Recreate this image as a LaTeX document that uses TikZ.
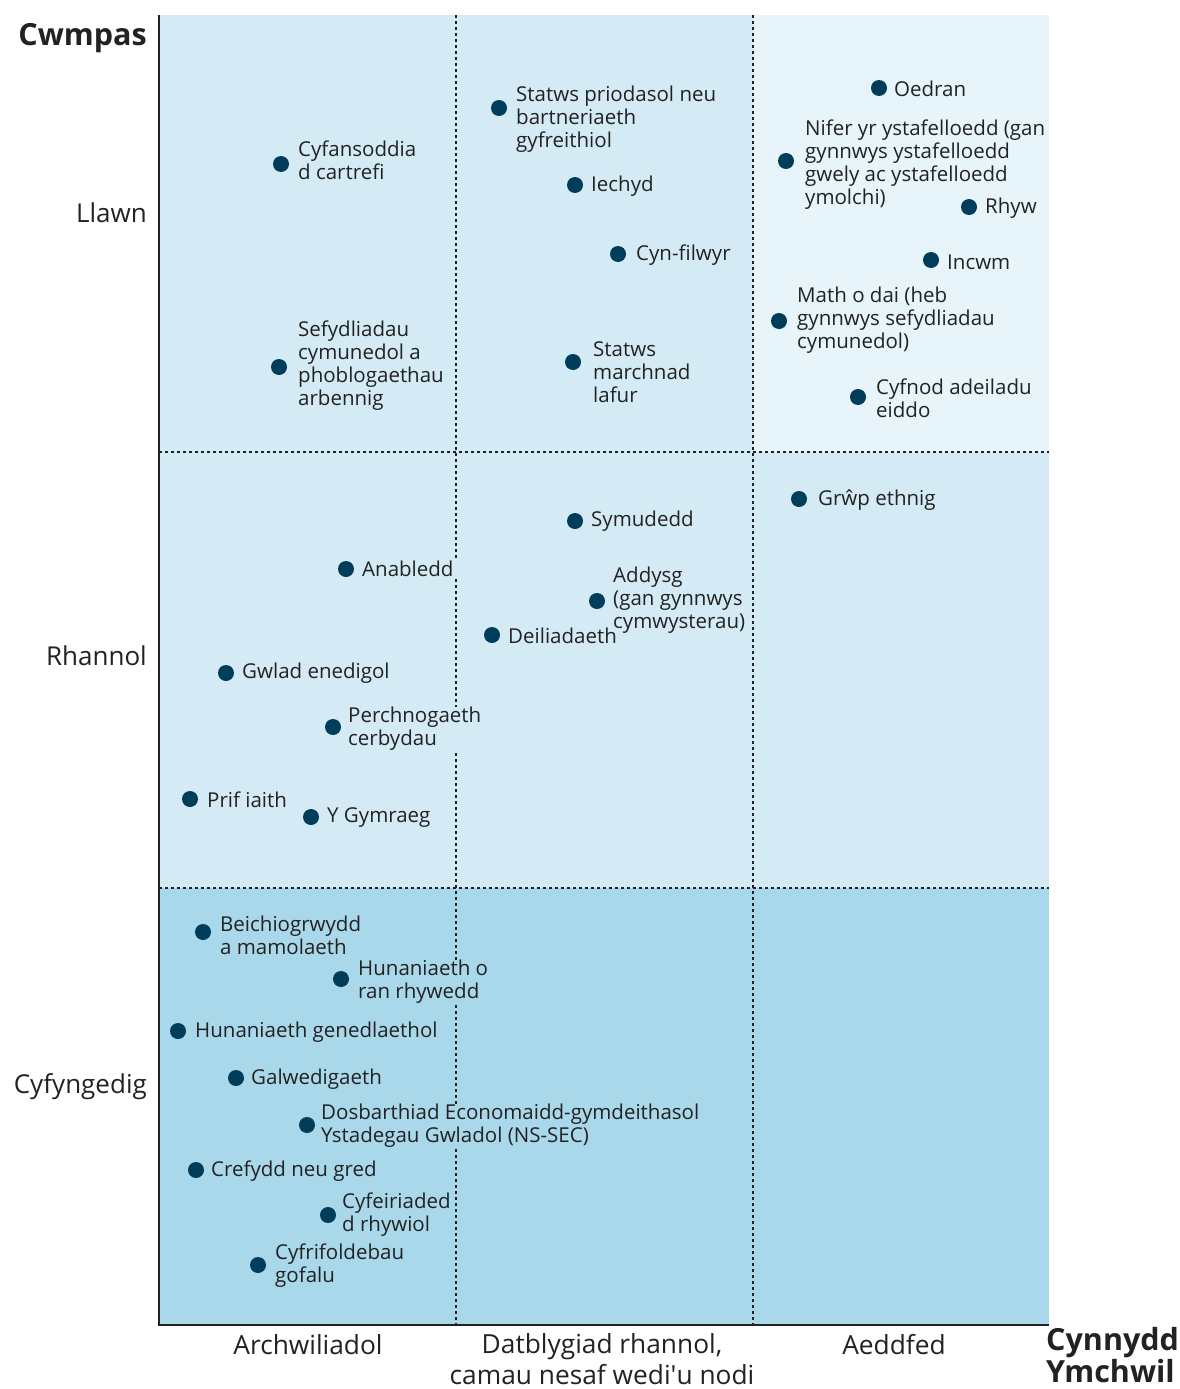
\documentclass[tikz,border=0pt]{standalone}
\usepackage{fontspec}
\setmainfont{Open Sans}
\newfontfamily\nomap{Open Sans}
\definecolor{cA}{HTML}{D4EBF5}
\definecolor{cB}{HTML}{E7F5FB}
\definecolor{cC}{HTML}{A9D8EA}
\definecolor{dotc}{HTML}{003D5B}
\definecolor{txt}{HTML}{222222}
\tikzset{
  dotn/.style={circle, fill=dotc, inner sep=0pt, minimum size=16pt},
  lbl/.style={anchor=west, align=left, inner xsep=3pt, inner ysep=0pt, text=txt, font=\fontsize{20.5}{23}\selectfont},
  grid/.style={draw=txt, line width=1.5pt, dash pattern=on 3pt off 3pt},
  axis/.style={draw=txt, line width=2.5pt},
  ylab/.style={anchor=east, text=txt, font=\fontsize{26}{28}\selectfont, inner sep=0pt},
  xlab/.style={anchor=center, align=center, text=txt, font=\fontsize{26.3}{31}\selectfont, inner sep=0pt},
  boldlab/.style={text=txt, font=\fontsize{30.5}{30}\selectfont\bfseries, inner sep=0pt}
}
\begin{document}
\begin{tikzpicture}[x=1pt,y=-1pt]
\useasboundingbox (0,0) rectangle (1180,1389);
% cells
\fill[cA] (159,15) rectangle (753,452);
\fill[cB] (753,15) rectangle (1049,452);
\fill[cA] (159,452) rectangle (1049,888);
\fill[cC] (159,888) rectangle (1049,1325);
% grid lines
\coordinate (v1t) at (456,15); \coordinate (v1b) at (456,1325);
\coordinate (v2t) at (753,15); \coordinate (v2b) at (753,1325);
\coordinate (h1l) at (159,452); \coordinate (h1r) at (1049,452);
\coordinate (h2l) at (159,888); \coordinate (h2r) at (1049,888);
\draw[grid] (v1t) -- (v1b);
\draw[grid] (v2t) -- (v2b);
\draw[grid] (h1l) -- (h1r);
\draw[grid] (h2l) -- (h2r);

% top row
\node[dotn] (d1) at (281,164) {};
\node[lbl, fill=cA] (t1) at (295,160) {Cyfansoddia\\d cartrefi};
\node[dotn] (d2) at (279,367) {};
\node[lbl, fill=cA] (t2) at (295,366) {Sefydliadau\\cymunedol a\\phoblogaethau\\arbennig};
\node[dotn] (d3) at (499,108) {};
\node[lbl, fill=cA] (t3) at (513,119) {Statws priodasol neu\\bartneriaeth\\gyfreithiol};
\node[dotn] (d4) at (575,185) {};
\node[lbl, fill=cA] (t4) at (588,186) {Iechyd};
\node[dotn] (d5) at (618,254) {};
\node[lbl, fill=cA] (t5) at (633,255) {Cyn-filwyr};
\node[dotn] (d6) at (573,362) {};
\node[lbl, fill=cA] (t6) at (590,372) {Statws\\marchnad\\lafur};
\node[dotn] (d7) at (879,88) {};
\node[lbl, fill=cB] (t7) at (891,89) {Oedran};
\node[dotn] (d8) at (786,161) {};
\node[lbl, fill=cB] (t8) at (802,165) {Nifer yr ystafelloedd (gan\\gynnwys ystafelloedd\\gwely ac ystafelloedd\\ymolchi)};
\node[dotn] (d9) at (969,207) {};
\node[lbl, fill=cB] (t9) at (982,208) {Rhyw};
\node[dotn] (d10) at (931,260) {};
\node[lbl, fill=cB] (t10) at (944,262) {Incwm};
\node[dotn] (d11) at (779,321) {};
\node[lbl, fill=cB] (t11) at (794,320) {Math o dai (heb\\gynnwys sefydliadau\\cymunedol)};
\node[dotn] (d12) at (858,397) {};
\node[lbl, fill=cB] (t12) at (873,398) {Cyfnod adeiladu\\eiddo};

% middle row
\node[dotn] (d13) at (799,499) {};
\node[lbl, fill=cA] (t13) at (815,500) {Grŵp ethnig};
\node[dotn] (d14) at (575,521) {};
\node[lbl, fill=cA] (t14) at (588,521) {Symudedd};
\node[dotn] (d15) at (346,569) {};
\node[lbl, fill=cA] (t15) at (359,569) {Anabledd};
\node[dotn] (d16) at (597,601) {};
\node[lbl, fill=cA] (t16) at (610,600) {Addysg\\(gan gynnwys\\cymwysterau)};
\node[dotn] (d17) at (492,635) {};
\node[lbl, fill=cA] (t17) at (505,636) {Deiliadaeth};
\node[dotn] (d18) at (226,673) {};
\node[lbl, fill=cA] (t18) at (239,673) {Gwlad enedigol};
\node[dotn] (d19) at (333,727) {};
\node[lbl, fill=cA] (t19) at (345,729) {Perchnogaeth\\cerbydau};
\node[dotn] (d20) at (190,799) {};
\node[lbl, fill=cA] (t20) at (204,800) {Prif iaith};
\node[dotn] (d21) at (311,817) {};
\node[lbl, fill=cA] (t21) at (324,818) {Y Gymraeg};

% bottom row
\node[dotn] (d22) at (203,932) {};
\node[lbl, fill=cC] (t22) at (217,935) {Beichiogrwydd\\a mamolaeth};
\node[dotn] (d23) at (341,979) {};
\node[lbl, fill=cC] (t23) at (355,982) {Hunaniaeth o\\ran rhywedd};
\node[dotn] (d24) at (178,1031) {};
\node[lbl, fill=cC] (t24) at (192,1032) {Hunaniaeth genedlaethol};
\node[dotn] (d25) at (236,1078) {};
\node[lbl, fill=cC] (t25) at (248,1079) {Galwedigaeth};
\node[dotn] (d26) at (307,1125) {};
\node[lbl, fill=cC] (t26) at (318,1126) {Dosbarthiad Economaidd-gymdeithasol\\Ystadegau Gwladol (NS-SEC)};
\node[dotn] (d27) at (196,1170) {};
\node[lbl, fill=cC] (t27) at (208,1171) {Crefydd neu gred};
\node[dotn] (d28) at (328,1215) {};
\node[lbl, fill=cC] (t28) at (339,1215) {Cyfeiriaded\\d rhywiol};
\node[dotn] (d29) at (258,1265) {};
\node[lbl, fill=cC] (t29) at (272,1266) {Cyfrifoldebau\\gofalu};

% axes
\coordinate (o) at (159,1325);
\coordinate (yt) at (159,15);
\coordinate (xr) at (1049,1325);
\draw[axis] (yt) -- (o) -- (xr);

% axis labels
\node[boldlab, anchor=east] (cw) at (147,38) {Cwmpas};
\node[ylab] (yl1) at (147,213) {Llawn};
\node[ylab] (yl2) at (147,656) {Rhannol};
\node[ylab] (yl3) at (147,1087) {Cyfyngedig};
\node[xlab] (xl1) at (308,1345) {Archwiliadol};
\node[xlab] (xl2) at (602,1359) {Datblygiad rhannol,\\camau nesaf wedi{\nomap '}u nodi};
\node[xlab] (xl3) at (894,1345) {Aeddfed};
\node[boldlab, anchor=west, align=left] (cy) at (1046,1355) {Cynnydd\\Ymchwil};
\end{tikzpicture}
\end{document}
